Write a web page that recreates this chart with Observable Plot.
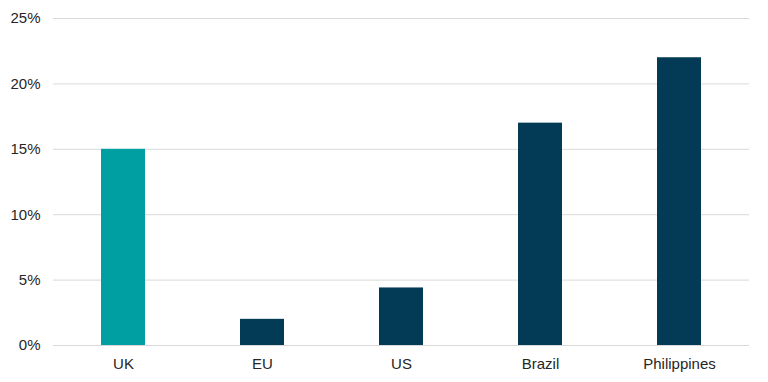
<!DOCTYPE html>
<html>
<head>
<meta charset="utf-8">
<script src="https://cdn.jsdelivr.net/npm/d3@7"></script>
<script src="https://cdn.jsdelivr.net/npm/@observablehq/plot@0.6"></script>
<style>
  html, body { margin: 0; padding: 0; background: #fff; }
  #chart svg { display: block; }
</style>
</head>
<body>
<div id="chart"></div>
<script>
const categories = ["UK", "EU", "US", "Brazil", "Philippines"];
const values = [15, 2, 4.4, 17, 22];
const highlight = ["UK"];
const yTicks = [0, 5, 10, 15, 20, 25];

const data = categories.map((c, i) => ({category: c, value: values[i], hl: highlight.includes(c)}));

const chart = Plot.plot({
  width: 768,
  height: 382,
  marginTop: 18,
  marginBottom: 37,
  marginLeft: 53,
  marginRight: 19,
  style: {fontFamily: "'Liberation Sans', Arial, sans-serif", fontSize: "15px", color: "#262626", background: "#fff"},
  x: {domain: categories, paddingInner: 0.684, paddingOuter: 0.342, label: null},
  y: {domain: [0, 25], label: null},
  marks: [
    Plot.gridY(yTicks, {stroke: "#d9d9d9", strokeOpacity: 1, strokeWidth: 1}),
    Plot.barY(data, {x: "category", y: "value", fill: d => d.hl ? "#00A0A2" : "#033B56"}),
    Plot.axisY(yTicks, {tickSize: 0, tickPadding: 13, tickFormat: d => d + "%", label: null, fill: "#262626"}),
    Plot.axisX({tickSize: 0, tickPadding: 12.5, label: null, fill: "#262626"})
  ]
});
document.getElementById("chart").appendChild(chart);
</script>
</body>
</html>
